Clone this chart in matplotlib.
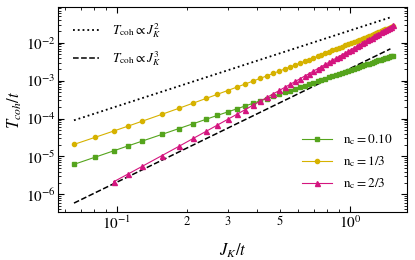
import numpy as np
import matplotlib
matplotlib.use("Agg")
import matplotlib.pyplot as plt
from matplotlib.ticker import LogLocator, FuncFormatter, NullFormatter

plt.rcParams["font.family"] = "STIXGeneral"
plt.rcParams["mathtext.fontset"] = "stix"

# J_K / t values (shared by all three fillings, n_c = 2/3 starts at the 3rd one)
jk = [0.0656, 0.0807, 0.0971, 0.1118, 0.1283, 0.156, 0.1845, 0.213, 0.2415, 0.27,
      0.2985, 0.327, 0.3555, 0.384, 0.4125, 0.441, 0.4695, 0.498, 0.5265, 0.555,
      0.5835, 0.612, 0.6405, 0.669, 0.6975, 0.726, 0.7545, 0.783, 0.8115, 0.84,
      0.8685, 0.897, 0.9255, 0.954, 0.9825, 1.011, 1.0395, 1.068, 1.0965, 1.125,
      1.1535, 1.182, 1.2105, 1.239, 1.2675, 1.296, 1.3245, 1.353, 1.3815, 1.41,
      1.4385, 1.467, 1.4955, 1.524]
jk_23 = jk[2:]

# T_coh / t
t_010 = [6.19e-6, 9.56e-6, 1.41e-5, 1.9e-5, 2.53e-5, 3.81e-5, 5.43e-5, 7.33e-5, 9.55e-5, 0.000121,
         0.000149, 0.00018, 0.000215, 0.000253, 0.000294, 0.000338, 0.000385, 0.000436, 0.00049, 0.000548,
         0.000608, 0.000672, 0.00074, 0.00081, 0.000885, 0.000962, 0.00104, 0.00113, 0.00122, 0.00131,
         0.0014, 0.0015, 0.0016, 0.00171, 0.00182, 0.00193, 0.00204, 0.00216, 0.00229, 0.00241,
         0.00254, 0.00268, 0.00281, 0.00295, 0.0031, 0.00325, 0.0034, 0.00355, 0.00371, 0.00388,
         0.00404, 0.00421, 0.00439, 0.00456]
t_13 = [2.08e-5, 3.19e-5, 4.69e-5, 6.31e-5, 8.47e-5, 0.000129, 0.000186, 0.000256, 0.000339, 0.000435,
        0.000547, 0.000673, 0.000815, 0.000974, 0.00115, 0.00134, 0.00156, 0.00179, 0.00204, 0.00231,
        0.0026, 0.00291, 0.00325, 0.0036, 0.00398, 0.00439, 0.00481, 0.00527, 0.00574, 0.00625,
        0.00678, 0.00733, 0.00791, 0.00853, 0.00917, 0.00983, 0.0105, 0.0113, 0.012, 0.0128,
        0.0136, 0.0145, 0.0154, 0.0163, 0.0172, 0.0182, 0.0192, 0.0203, 0.0214, 0.0225,
        0.0237, 0.0249, 0.0261, 0.0274]
t_23 = [2.16e-6, 3.44e-6, 5.45e-6, 1.05e-5, 1.84e-5, 3e-5, 4.59e-5, 6.72e-5, 9.46e-5, 0.000129,
        0.000172, 0.000225, 0.000288, 0.000362, 0.00045, 0.000552, 0.00067, 0.000805, 0.000958, 0.00113,
        0.00133, 0.00154, 0.00179, 0.00206, 0.00235, 0.00268, 0.00304, 0.00343, 0.00386, 0.00433,
        0.00483, 0.00538, 0.00597, 0.0066, 0.00729, 0.00802, 0.0088, 0.00964, 0.0105, 0.0115,
        0.0125, 0.0136, 0.0147, 0.016, 0.0172, 0.0186, 0.02, 0.0215, 0.0231, 0.0248,
        0.0266, 0.0285]

# power-law guide lines (end points)
guide_j = [0.0656, 1.49]
guide_t2 = [9.0e-5, 0.0466]
guide_t3 = [5.9e-7, 6.9e-3]

fig = plt.figure(figsize=(4.15, 2.6), dpi=100)
ax = fig.add_axes([0.1405, 0.1858, 0.8409, 0.7862])

l1, = ax.plot(guide_j, guide_t2, color="black", ls=":", lw=1.3)
l2, = ax.plot(guide_j, guide_t3, color="black", ls="--", lw=1.1)

g, = ax.plot(jk, t_010, color="#55a41d", marker="s", ms=3.1, lw=0.8)
y, = ax.plot(jk, t_13, color="#d6b200", marker="o", ms=3, lw=0.8)
p, = ax.plot(jk_23, t_23, color="#d4157f", marker="^", ms=3.6, lw=0.8)

ax.set_xscale("log")
ax.set_yscale("log")
ax.set_xlim(0.0562, 1.76)
ax.set_ylim(3.5e-7, 0.086)

ax.yaxis.set_major_locator(LogLocator(base=10, numticks=20))
ax.yaxis.set_minor_locator(LogLocator(base=10, subs=np.arange(2, 10), numticks=20))
ax.yaxis.set_minor_formatter(NullFormatter())


def minor_fmt(v, pos):
    # only 2, 3 and 5 get a label between 0.1 and 1
    e = np.floor(np.log10(v) + 1e-9)
    m = int(round(v / 10 ** e))
    if e == -1 and m in (2, 3, 5):
        return str(m)
    return ""


ax.xaxis.set_minor_formatter(FuncFormatter(minor_fmt))
ax.tick_params(which="both", direction="in", top=True, right=True)
ax.tick_params(which="major", length=4.5, width=0.8, labelsize=11, pad=2)
ax.tick_params(which="minor", length=2.3, width=0.6)
ax.tick_params(axis="x", which="minor", labelsize=9, pad=3)

ax.set_xlabel("$J_K/t$", fontsize=12, labelpad=7)
ax.set_ylabel("$T_{coh}/t$", fontsize=12, labelpad=1)

leg1 = ax.legend([l1, l2], [r"$T_{\rm coh} \propto J_K^2$", r"$T_{\rm coh} \propto J_K^3$"],
                 loc="upper left", frameon=False, fontsize=9.5, labelspacing=0.65,
                 handlelength=2.0, handletextpad=1.0, borderaxespad=0.7)
ax.add_artist(leg1)
ax.legend([g, y, p], [r"$\rm n_c = 0.10$", r"$\rm n_c = 1/3$", r"$\rm n_c = 2/3$"],
          loc="lower right", bbox_to_anchor=(1.0, 0.025), frameon=False, fontsize=9.5,
          labelspacing=0.55, handlelength=2.3, handletextpad=0.8, borderaxespad=0.75)

fig.savefig("out.png", dpi=100)
